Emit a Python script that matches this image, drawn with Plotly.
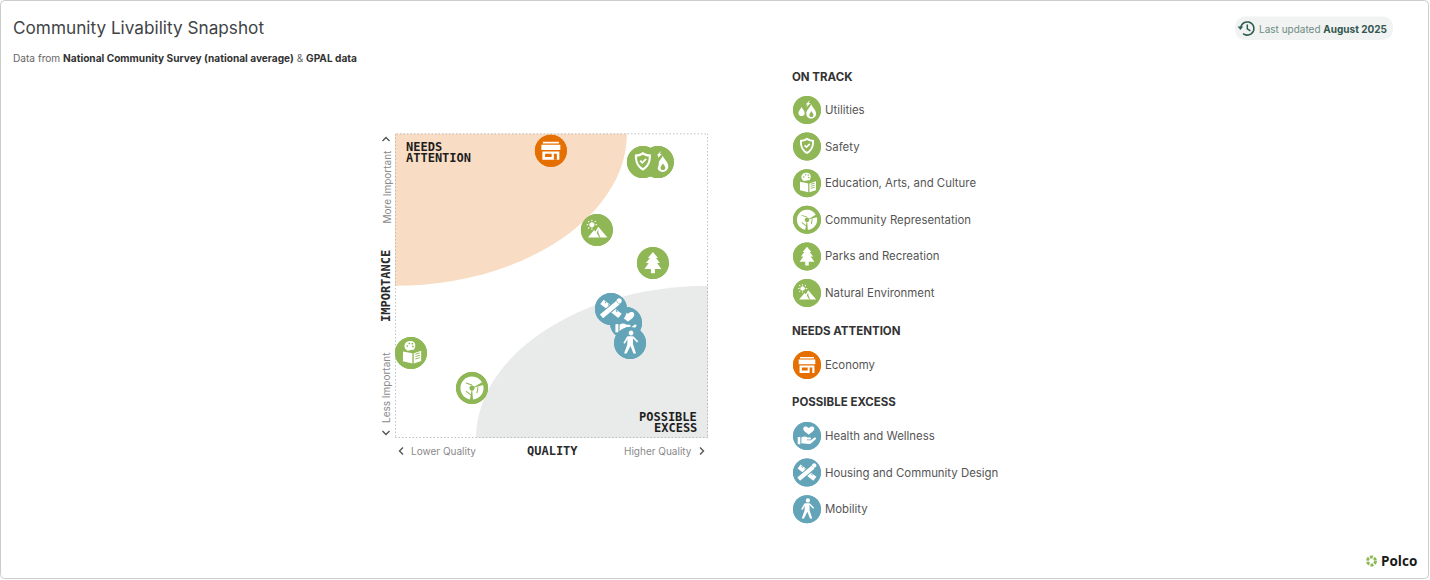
import math
import plotly.graph_objects as go

# ---------- data ----------
NAMES = ["Utilities", "Safety", "Economy", "Natural Environment", "Parks and Recreation",
         "Health and Wellness", "Housing and Community Design", "Mobility",
         "Education, Arts, and Culture", "Community Representation"]
QUALITY = [84.0, 79.2, 49.8, 64.5, 82.4, 73.8, 69.0, 75.1, 5.1, 24.6]
IMPORTANCE = [90.6, 90.6, 94.3, 68.3, 57.5, 37.8, 42.4, 31.2, 27.9, 16.4]
GROUP = ["on", "on", "need", "on", "on", "excess", "excess", "excess", "on", "on"]

ON_TRACK = ["Utilities", "Safety", "Education, Arts, and Culture", "Community Representation",
            "Parks and Recreation", "Natural Environment"]
NEEDS_ATTENTION = ["Economy"]
POSSIBLE_EXCESS = ["Health and Wellness", "Housing and Community Design", "Mobility"]

COL = {"on": "#8FB755", "need": "#E56F00", "excess": "#64A4B8"}
FONT = "Inter"
MONO = "DejaVu Sans Mono"
W, H = 1430, 580
PL, PR, PT, PB = 395, 708, 133.5, 438

# ---------- path helpers (y down, origin at icon centre) ----------
def poly(*pts):
    return "M" + " L".join(f"{x:.2f},{y:.2f}" for x, y in pts) + " Z"

def circ(cx, cy, r):
    k = 0.5523 * r
    return (f"M{cx-r:.2f},{cy:.2f} C{cx-r:.2f},{cy-k:.2f} {cx-k:.2f},{cy-r:.2f} {cx:.2f},{cy-r:.2f} "
            f"C{cx+k:.2f},{cy-r:.2f} {cx+r:.2f},{cy-k:.2f} {cx+r:.2f},{cy:.2f} "
            f"C{cx+r:.2f},{cy+k:.2f} {cx+k:.2f},{cy+r:.2f} {cx:.2f},{cy+r:.2f} "
            f"C{cx-k:.2f},{cy+r:.2f} {cx-r:.2f},{cy+k:.2f} {cx-r:.2f},{cy:.2f} Z")

def rect(x0, y0, x1, y1):
    return poly((x0, y0), (x1, y0), (x1, y1), (x0, y1))

def seg(x0, y0, x1, y1, w):
    d = math.hypot(x1 - x0, y1 - y0)
    nx, ny = -(y1 - y0) / d * w / 2, (x1 - x0) / d * w / 2
    return poly((x0 + nx, y0 + ny), (x1 + nx, y1 + ny), (x1 - nx, y1 - ny), (x0 - nx, y0 - ny))

def drop(cx, cy, r):
    t = cy - 1.9 * r
    return (f"M{cx:.2f},{t:.2f} C{cx+0.3*r:.2f},{cy-1.2*r:.2f} {cx+r:.2f},{cy-0.7*r:.2f} {cx+r:.2f},{cy:.2f} "
            f"C{cx+r:.2f},{cy+0.6*r:.2f} {cx+0.55*r:.2f},{cy+r:.2f} {cx:.2f},{cy+r:.2f} "
            f"C{cx-0.55*r:.2f},{cy+r:.2f} {cx-r:.2f},{cy+0.6*r:.2f} {cx-r:.2f},{cy:.2f} "
            f"C{cx-r:.2f},{cy-0.7*r:.2f} {cx-0.3*r:.2f},{cy-1.2*r:.2f} {cx:.2f},{t:.2f} Z")

def sector(a0, a1, r0, r1, n=8):
    pts = []
    for i in range(n + 1):
        a = math.radians(a0 + (a1 - a0) * i / n)
        pts.append((r1 * math.cos(a), r1 * math.sin(a)))
    for i in range(n, -1, -1):
        a = math.radians(a0 + (a1 - a0) * i / n)
        pts.append((r0 * math.cos(a), r0 * math.sin(a)))
    return poly(*pts)

# each icon: list of (path, use_background_colour)
ICONS = {
    "Economy": [
        (rect(-8, -9, 8, -7.4) + rect(-9.5, -6.2, 9.5, -0.8) + rect(-8.5, 0.6, 8.5, 9), False),
        (rect(-5.8, 3, 0.8, 6.2) + rect(3, 3, 6, 9), True),
    ],
    "Safety": [
        ("M0,-10 C3,-8.2 5.5,-7.6 8,-7.6 C8.4,-1 6.5,5 0,8.6 C-6.5,5 -8.4,-1 -8,-7.6 "
         "C-5.5,-7.6 -3,-8.2 0,-10 Z", False),
        ("M0,-7.4 C2.4,-6 4.2,-5.6 5.8,-5.5 C6,-0.8 4.5,3.4 0,6 C-4.5,3.4 -6,-0.8 -5.8,-5.5 "
         "C-4.2,-5.6 -2.4,-6 0,-7.4 Z", True),
        (poly((-3.4, -0.8), (-2, -2.1), (-0.6, -0.6), (2.6, -3.8), (3.9, -2.5), (-0.6, 2)), False),
    ],
    "Utilities": [
        (poly((3.4, -11.4), (-1.6, -6.4), (0.6, -6.4), (-0.8, -3), (4, -8), (1.8, -8)), False),
        (drop(-6.2, 3.4, 3.6) + drop(4.8, 4.2, 5.6), False),
        (drop(5.0, 5.6, 2.4), True),
    ],
    "Natural Environment": [
        (circ(-5, -5.2, 2.6), False),
        (seg(-5, -10.4, -5, -8.7, 1) + seg(-5, -1.7, -5, -0.2, 1) + seg(-10.2, -5.2, -8.6, -5.2, 1)
         + seg(-1.5, -5.2, 0.2, -5.2, 1) + seg(-8.8, -9, -7.6, -7.8, 1) + seg(-1.2, -9, -2.4, -7.8, 1)
         + seg(-8.8, -1.4, -7.6, -2.6, 1), False),
        (poly((-9, 7.5), (-2.8, 0), (-1.4, 1.4), (1.4, -3.2), (10.5, 7.5)), False),
        (poly((1.4, -0.6), (-0.2, 3), (2.6, 7.5), (3.6, 7.5), (1.6, 3)), True),
    ],
    "Parks and Recreation": [
        (poly((0, -11), (5, -5), (3, -5), (7, 0), (4.2, 0), (8.4, 6), (2, 6), (2, 10.4), (-2, 10.4),
              (-2, 6), (-8.4, 6), (-4.2, 0), (-7, 0), (-3, -5), (-5, -5)), False),
    ],
    "Housing and Community Design": [
        (seg(-9, -7, 9, 7, 5.6), False),
        (seg(-6.2, -7.4, -4.9, -5.7, 1) + seg(-2.6, -4.6, -1.3, -2.9, 1) + seg(1.8, -1.2, 3.1, 0.5, 1)
         + seg(5, 1.3, 6.3, 3, 1), True),
        (seg(-9.5, 7.5, 5, -4.5, 6.8), True),
        (seg(-9.5, 7.5, 7, -6.2, 4.8) + circ(8.2, -8, 2.6), False),
    ],
    "Health and Wellness": [
        ("M2,-1.4 C-1,-3.8 -5,-6.2 -4.2,-9 C-3.6,-11.4 -0.2,-11.6 2,-9 "
         "C4.2,-11.6 7.6,-11.4 8.2,-9 C9,-6.2 5,-3.8 2,-1.4 Z", False),
        (rect(-10.6, 1.2, -7.6, 9.4), False),
        ("M-6.4,1.6 C-3.6,0 -1.6,0.4 0.6,1.8 L3.6,1.8 C5,1.8 5,4 3.6,4 L-0.2,4 L-0.2,4.8 L4.4,4.8 "
         "L8.6,1.8 C10,1 11.2,2.6 10,3.8 L4.8,8.2 C4,8.9 3,9.2 2,9.2 L-6.4,8.4 Z", False),
    ],
    "Mobility": [
        (circ(1, -10, 2.4), False),
        (poly((-2.6, -6.8), (2.8, -6.8), (3, 1.4), (6, 10.6), (3.4, 10.6), (0.4, 3), (-3.4, 10.6),
              (-6, 10.6), (-2.8, 1.4)), False),
        (seg(2.6, -6.2, 7.6, -1.2, 1.7) + seg(-2.2, -6.2, -6, 0.4, 1.7), False),
    ],
    "Education, Arts, and Culture": [
        ("M-6.5,-7 C-6.5,-11 -2.8,-12.4 0.4,-12 C3.4,-11.6 4.8,-9 4.2,-6.6 L3.2,-3.6 L-3.4,-2.4 "
         "C-5.4,-3.4 -6.5,-5 -6.5,-7 Z", False),
        (circ(-3.6, -7, 0.9) + circ(-1.6, -9.6, 0.9) + circ(1.4, -9.4, 0.9) + circ(2, -6.6, 0.9), True),
        (poly((-8, -1.6), (1.4, 0.2), (1.4, 10.4), (-8, 8.2)) + poly((2.8, 0.2), (10.2, -2.2), (10.2, 8), (2.8, 10.4)), False),
        (seg(4.4, 1.2, 8.8, -0.2, 0.9) + seg(4.4, 3.6, 8.8, 2.2, 0.9) + seg(4.4, 6, 8.8, 4.6, 0.9), True),
    ],
    "Community Representation": [
        (sector(-160, -30, 2.6, 11.6) + sector(-15, 85, 2.6, 11.6) + sector(100, 200, 2.6, 11.6), False),
        (seg(-6, -5, 0, -3, 1) + seg(6, -1, 5, 5, 1) + seg(-6, 3, -1, 7, 1), True),
    ],
}

# ---------- figure ----------
fig = go.Figure()

for g in ["on", "need", "excess"]:
    idx = [i for i, v in enumerate(GROUP) if v == g]
    fig.add_trace(go.Scatter(
        x=[QUALITY[i] for i in idx], y=[IMPORTANCE[i] for i in idx], text=[NAMES[i] for i in idx],
        mode="markers", marker=dict(size=32, color=COL[g], line=dict(width=0)), cliponaxis=False,
        hovertemplate="%{text}<extra></extra>", showlegend=False, xaxis="x", yaxis="y"))

def place_icon(name, xv, yv, xref, yref, color, r):
    s = r / 16.0
    def tf(path):
        res, buf = [], ""
        for ch in path + " ":
            if ch in "MLCZ ":
                if buf:
                    a, b = buf.split(",")
                    res.append(f"{float(a)*s:.2f},{-float(b)*s:.2f}")
                    buf = ""
                res.append(ch)
            else:
                buf += ch
        return "".join(res).strip()
    common = dict(type="path", xref=xref, yref=yref, xsizemode="pixel", ysizemode="pixel",
                  xanchor=xv, yanchor=yv, line=dict(width=0), layer="above")
    fig.add_shape(path=tf(circ(0, 0, 16)), fillcolor=color, **common)
    for p, use_bg in ICONS[name]:
        fig.add_shape(path=tf(p), fillcolor=color if use_bg else "#FFFFFF", fillrule="nonzero", **common)

# quadrant regions, in data units of the main axes
fig.add_shape(type="path", xref="x", yref="y", layer="below", line=dict(width=0), fillcolor="#F8DCC4",
              path="M0,100 L74.1,100 C74.1,73 41,50 0,50 Z")
fig.add_shape(type="path", xref="x", yref="y", layer="below", line=dict(width=0), fillcolor="#E9EBEA",
              path="M100,50 C59,50 25.9,27 25.9,0 L100,0 Z")
fig.add_shape(type="rect", xref="x", yref="y", x0=0, x1=100, y0=0, y1=100, layer="below",
              line=dict(color="#ABADAD", width=1.5, dash="1.5px,2px"), fillcolor="rgba(0,0,0,0)")

# chart marks with their icons, in stacking order
for n, qv, iv, g in zip(NAMES, QUALITY, IMPORTANCE, GROUP):
    place_icon(n, qv, iv, "x", "y", COL[g], 16)

# ---------- legend on a page-sized overlay axis ----------
def label(x, y, text, size=12, color="#555555", anchor="left", family=FONT, angle=0):
    fig.add_annotation(x=x, y=y, xref="x2", yref="y2", text=text, showarrow=False, xanchor=anchor,
                       yanchor="middle", textangle=angle, borderpad=0, borderwidth=0,
                       font=dict(size=size, color=color, family=family))

LEG_GROUPS = [("ON TRACK", ON_TRACK, "on", 76.5, 110),
              ("NEEDS ATTENTION", NEEDS_ATTENTION, "need", 330.5, 365),
              ("POSSIBLE EXCESS", POSSIBLE_EXCESS, "excess", 402, 436)]
ROW = 36.6
for head, items, g, yh, y0 in LEG_GROUPS:
    label(791.5, yh, f"<b>{head}</b>", size=11.5, color="#333333")
    ys = [y0 + ROW * k for k in range(len(items))]
    fig.add_trace(go.Scatter(x=[807] * len(items), y=ys, text=items, mode="markers",
                             marker=dict(size=28, color=COL[g], line=dict(width=0)), cliponaxis=False,
                             hovertemplate="%{text}<extra></extra>", showlegend=False, xaxis="x2", yaxis="y2"))
    for it, yy in zip(items, ys):
        place_icon(it, 807, yy, "x2", "y2", COL[g], 14)
        label(825, yy, it, size=11.4, color="#555555")

# ---------- text ----------
label(13, 27, "Community Livability Snapshot", size=17.2, color="#3F4447")
label(13, 58.5, 'Data from <b style="color:#333">National Community Survey (national average)</b> &amp; '
      '<b style="color:#333">GPAL data</b>', size=10.15, color="#666666")
label(1259, 29, 'Last updated <b style="color:#34574F">August 2025</b>', size=10, color="#6F8B85")
label(1381, 561, "<b>Polco</b>", size=13.5, color="#1A1A1A", family="Open Sans")

for i, t in enumerate(["NEEDS", "ATTENTION"]):
    label(406, 147 + i * 11, f"<b>{t}</b>", size=12, color="#1E1E1E", family=MONO)
for i, t in enumerate(["POSSIBLE", "EXCESS"]):
    label(697, 417 + i * 11, f"<b>{t}</b>", size=12, color="#1E1E1E", family=MONO, anchor="right")
label(552, 451, "<b>QUALITY</b>", size=12, color="#2B2B2B", family=MONO, anchor="center")
label(386, 286, "<b>IMPORTANCE</b>", size=12, color="#2B2B2B", family=MONO, anchor="center", angle=-90)
label(411, 451, "Lower Quality", size=10, color="#8A8A8A")
label(692, 451, "Higher Quality", size=10, color="#8A8A8A", anchor="right")
label(386, 186.5, "More Important", size=10, color="#8A8A8A", anchor="center", angle=-90)
label(386, 388, "Less Important", size=10, color="#8A8A8A", anchor="center", angle=-90)

# ---------- page furniture ----------
def deco(path, fill="rgba(0,0,0,0)", lc="rgba(0,0,0,0)", lw=0):
    fig.add_shape(type="path", xref="x2", yref="y2", path=path, fillcolor=fill, layer="above",
                  line=dict(color=lc, width=lw))

def rrect(x0, y0, x1, y1, r):
    return (f"M{x0+r},{y0} L{x1-r},{y0} Q{x1},{y0} {x1},{y0+r} L{x1},{y1-r} Q{x1},{y1} {x1-r},{y1} "
            f"L{x0+r},{y1} Q{x0},{y1} {x0},{y1-r} L{x0},{y0+r} Q{x0},{y0} {x0+r},{y0} Z")

deco(rrect(0.5, 0.5, 1428.5, 578.5, 4), lc="#C9CDCC", lw=1)
fig.add_shape(type="path", xref="x2", yref="y2", layer="below", line=dict(width=0), fillcolor="#F0F3F2",
              path=rrect(1235, 16.5, 1393, 40, 11.7))

# history icon
pts = []
for i in range(25):
    a = math.radians(-170 + 300 * i / 24)
    pts.append((1247.3 + 6.6 * math.cos(a), 28.5 + 6.6 * math.sin(a)))
deco("M" + " L".join(f"{x:.2f},{y:.2f}" for x, y in pts), lc="#2F5D52", lw=1.6)
deco(poly((1237.6, 26.5), (1243.2, 26.5), (1240.4, 30)), fill="#2F5D52")
deco("M1247.3,24.5 L1247.3,28.8 L1250.4,30.8", lc="#2F5D52", lw=1.5)

# axis chevrons
CH = "#555555"
deco("M382.5,141 L386,137.5 L389.5,141", lc=CH, lw=1.4)
deco("M382.5,431 L386,434.5 L389.5,431", lc=CH, lw=1.4)
deco("M403,447.5 L399.5,451 L403,454.5", lc=CH, lw=1.4)
deco("M700,447.5 L703.5,451 L700,454.5", lc=CH, lw=1.4)

# Polco mark
fig.add_shape(type="circle", xref="x2", yref="y2", x0=1367.5, x1=1375.5, y0=557, y1=565, layer="above",
              line=dict(color="#8FB755", width=3, dash="3px,1.2px"), fillcolor="rgba(0,0,0,0)")

fig.update_layout(
    width=W, height=H, margin=dict(l=0, r=0, t=0, b=0, pad=0),
    paper_bgcolor="#FFFFFF", plot_bgcolor="rgba(0,0,0,0)", showlegend=False, hovermode="closest",
    xaxis=dict(domain=[PL / W, PR / W], range=[0, 100], visible=False, fixedrange=True),
    yaxis=dict(domain=[(H - PB) / H, (H - PT) / H], range=[0, 100], visible=False, fixedrange=True),
    xaxis2=dict(domain=[0, 1], range=[0, W], visible=False, fixedrange=True, anchor="y2"),
    yaxis2=dict(domain=[0, 1], range=[H, 0], visible=False, fixedrange=True, anchor="x2"),
)

fig.write_html("out.html", config={"displayModeBar": False},
               post_script="document.body.style.margin='0';document.body.style.overflow='hidden';")
